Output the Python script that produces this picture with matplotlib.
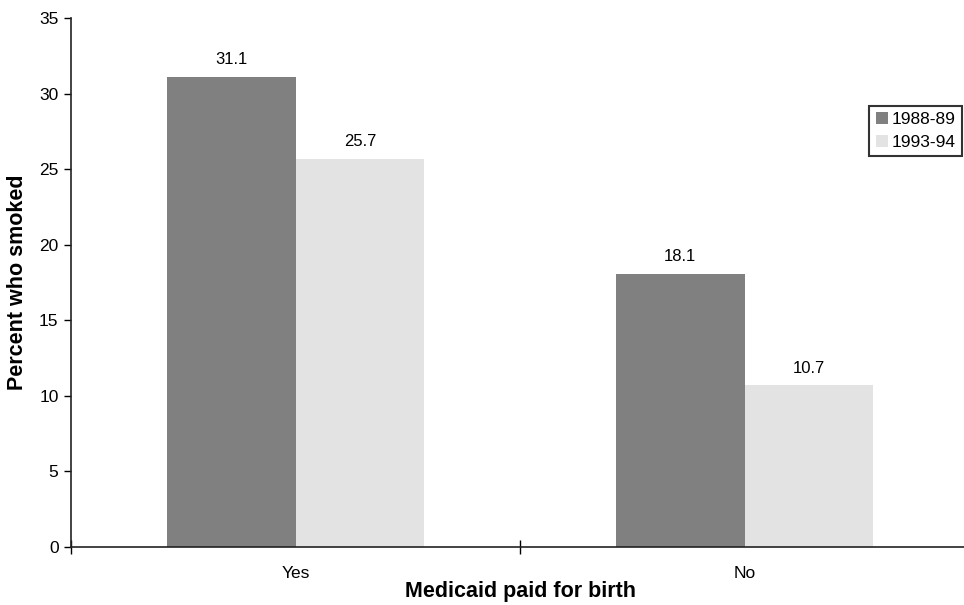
import numpy as np
import matplotlib.pyplot as plt

plt.rcParams['font.family'] = ['Liberation Sans', 'DejaVu Sans']

# data
categories = ["Yes", "No"]
series_names = ["1988-89", "1993-94"]
values_8889 = [31.1, 18.1]
values_9394 = [25.7, 10.7]
colors = ["#808080", "#e3e3e3"]

fig = plt.figure(figsize=(9.64, 6.05), dpi=100)
ax = fig.add_axes([0.0737, 0.0959, 0.9315, 0.874])

x = np.arange(len(categories))
w = 0.287
b1 = ax.bar(x - w / 2, values_8889, w, color=colors[0], label=series_names[0])
b2 = ax.bar(x + w / 2, values_9394, w, color=colors[1], label=series_names[1])

# value labels above each bar
for bars in (b1, b2):
    for r in bars:
        ax.annotate(f"{r.get_height():.1f}", (r.get_x() + r.get_width() / 2, r.get_height()),
                    xytext=(0, 7), textcoords="offset points", ha="center", va="bottom",
                    fontsize=12)

ax.set_xlim(-0.5, 1.5)
ax.set_ylim(0, 35)
ax.set_yticks(range(0, 36, 5))
ax.set_xticks(x)
ax.set_xticklabels(categories, fontsize=12.5)
ax.tick_params(axis='x', length=0, pad=14)
# category separators on the x axis
ax.set_xticks([-0.5, 0.5, 1.5], minor=True)
ax.tick_params(axis='x', which='minor', direction='inout', length=10, width=1)
ax.tick_params(axis='y', direction='out', length=5, width=1, labelsize=12.5, pad=4)

for s in ("top", "right"):
    ax.spines[s].set_visible(False)
ax.spines["left"].set_linewidth(1.2)
ax.spines["bottom"].set_linewidth(1.2)
ax.spines["left"].set_color("#222222")
ax.spines["bottom"].set_color("#222222")

ax.set_xlabel("Medicaid paid for birth", fontsize=15.5, fontweight="bold", labelpad=0)
ax.set_ylabel("Percent who smoked", fontsize=15.5, fontweight="bold", labelpad=8)

leg = ax.legend(loc="upper right", bbox_to_anchor=(0.998, 0.825), bbox_transform=fig.transFigure,
                fontsize=12.5, frameon=True, fancybox=False, handlelength=0.7, handleheight=0.7,
                handletextpad=0.25, borderpad=0.35, labelspacing=0.45, borderaxespad=0)
leg.get_frame().set_edgecolor("black")
leg.get_frame().set_linewidth(1.5)

fig.savefig("out.png", dpi=100)
